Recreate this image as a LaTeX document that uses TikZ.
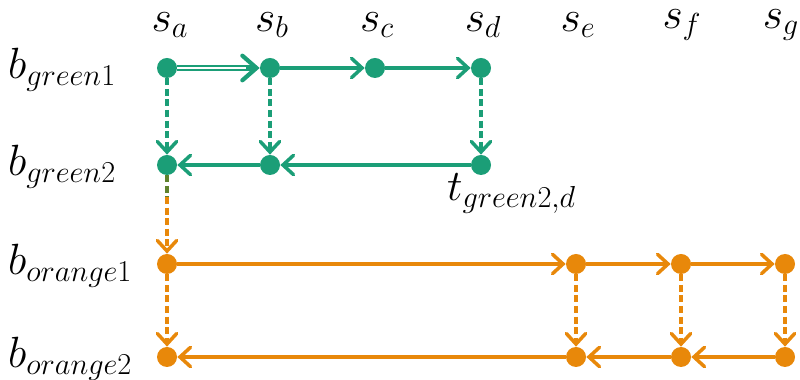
\documentclass[tikz,border=0pt]{standalone}
\usetikzlibrary{arrows.meta}
\definecolor{grn}{RGB}{27,158,119}
\definecolor{org}{RGB}{232,136,10}
\definecolor{olv}{RGB}{95,130,45}
\tikzset{
  dot/.style={circle,fill=#1,inner sep=0pt,minimum size=0.4cm},
  lbl/.style={font=\fontsize{26}{30}\selectfont,inner sep=0.5pt},
  flow/.style={draw=#1,line width=2pt,
    -{Straight Barb[length=6pt,width=11pt,line width=2pt,line cap=round]}},
  dflow/.style={flow=#1,dash pattern=on 4pt off 2pt}
}
\begin{document}
\begin{tikzpicture}
    \useasboundingbox (0,0) rectangle (16,7.6);
    % column heads
    \path (3.4,7.1) node[lbl] (sa) {$s_a$};
    \path (5.44,7.1) node[lbl] (sb) {$s_b$};
    \path (7.54,7.1) node[lbl] (sc) {$s_c$};
    \path (9.66,7.1) node[lbl] (sd) {$s_d$};
    \path (11.56,7.1) node[lbl] (se) {$s_e$};
    \path (13.64,7.1) node[lbl] (sf) {$s_f$};
    \path (15.62,7.1) node[lbl] (sg) {$s_g$};
    % row heads
    \path (0.14,6.2) node[lbl,anchor=west] (bg1) {$b_{green1}$};
    \path (0.14,4.26) node[lbl,anchor=west] (bg2) {$b_{green2}$};
    \path (0.14,2.28) node[lbl,anchor=west] (bo1) {$b_{orange1}$};
    \path (0.14,0.42) node[lbl,anchor=west] (bo2) {$b_{orange2}$};
    % green block
    \path (3.34,6.24) node[dot=grn] (g1a) {};
    \path (5.4,6.24) node[dot=grn] (g1b) {};
    \path (7.5,6.24) node[dot=grn] (g1c) {};
    \path (9.62,6.24) node[dot=grn] (g1d) {};
    \path (3.34,4.3) node[dot=grn] (g2a) {};
    \path (5.4,4.3) node[dot=grn] (g2b) {};
    \path (9.62,4.3) node[dot=grn] (g2d) {};
    \node[lbl,anchor=north west] (tg) at (8.92,4.15) {$t_{green2,d}$};
    % orange block
    \path (3.34,2.32) node[dot=org] (o1a) {};
    \path (11.52,2.32) node[dot=org] (o1e) {};
    \path (13.62,2.32) node[dot=org] (o1f) {};
    \path (15.7,2.32) node[dot=org] (o1g) {};
    \path (3.34,0.46) node[dot=org] (o2a) {};
    \path (11.52,0.46) node[dot=org] (o2e) {};
    \path (13.62,0.46) node[dot=org] (o2f) {};
    \path (15.7,0.46) node[dot=org] (o2g) {};
    \coordinate (mid) at (3.34,3.66);
    \coordinate (dtip) at ([xshift=-8pt]g1b.west);
    % green edges
    \draw [grn,line width=1.3pt,double=white,double distance=1.2pt,
      shorten >=3pt] (g1a) -- (g1b);
    \draw [draw=grn,line width=2pt,
      -{Straight Barb[length=8pt,width=14pt,line width=2.4pt,line cap=round]}] (dtip) -- (g1b);
    \draw [flow=grn] (g1b) -- (g1c);
    \draw [flow=grn] (g1c) -- (g1d);
    \draw [dflow=grn] (g1a) -- (g2a);
    \draw [dflow=grn] (g1b) -- (g2b);
    \draw [dflow=grn] (g1d) -- (g2d);
    \draw [flow=grn] (g2d) -- (g2b);
    \draw [flow=grn] (g2b) -- (g2a);
    % hand-over to orange
    \draw [olv,line width=2pt,dash pattern=on 4pt off 2pt] (g2a) -- (mid);
    \draw [dflow=org] (mid) -- (o1a);
    % orange edges
    \draw [flow=org] (o1a) -- (o1e);
    \draw [flow=org] (o1e) -- (o1f);
    \draw [flow=org] (o1f) -- (o1g);
    \draw [dflow=org] (o1a) -- (o2a);
    \draw [dflow=org] (o1e) -- (o2e);
    \draw [dflow=org] (o1f) -- (o2f);
    \draw [dflow=org] (o1g) -- (o2g);
    \draw [flow=org] (o2g) -- (o2f);
    \draw [flow=org] (o2f) -- (o2e);
    \draw [flow=org] (o2e) -- (o2a);
\end{tikzpicture}
\end{document}
